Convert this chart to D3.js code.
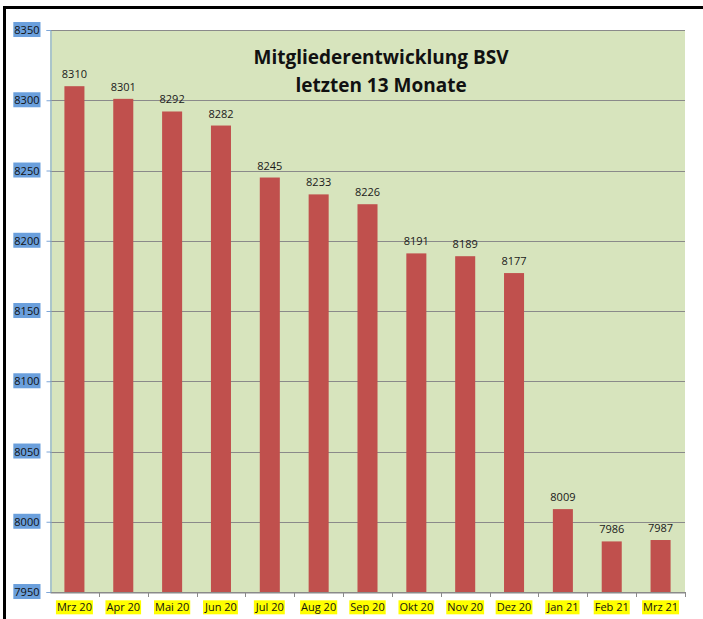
<!DOCTYPE html>
<html>
<head>
<meta charset="utf-8">
<script src="https://cdn.jsdelivr.net/npm/d3@7"></script>
<style>
	body { margin: 0; background: #fff; }
	svg { display: block; font-family: "Open Sans", "Liberation Sans", sans-serif; }
</style>
</head>
<body>
<div id="chart"></div>
<script>
(function() {
	"use strict";

	var months = ['Mrz 20', 'Apr 20', 'Mai 20', 'Jun 20', 'Jul 20', 'Aug 20', 'Sep 20',
		'Okt 20', 'Nov 20', 'Dez 20', 'Jan 21', 'Feb 21', 'Mrz 21'];
	var members = [8310, 8301, 8292, 8282, 8245, 8233, 8226, 8191, 8189, 8177, 8009, 7986, 7987];
	var yTicks = [7950, 8000, 8050, 8100, 8150, 8200, 8250, 8300, 8350];
	var titleLines = ['Mitgliederentwicklung BSV', 'letzten 13 Monate'];

	var width = 703, height = 619;
	var plot = { left: 50, right: 685, top: 30, bottom: 592 };

	var svg = d3.select('#chart')
		.append('svg')
		.attr('width', width)
		.attr('height', height);

	// outer frame of the embedded chart
	svg.append('rect')
		.attr('x', 4.5).attr('y', 7.5)
		.attr('width', width + 10).attr('height', height + 10)
		.attr('fill', 'none')
		.attr('stroke', '#000')
		.attr('stroke-width', 3);

	var x = d3.scaleBand()
		.domain(months)
		.range([plot.left, plot.right])
		.paddingInner(0.59)
		.paddingOuter(0.295);

	var slots = d3.scaleBand()
		.domain(months)
		.range([plot.left, plot.right]);

	var y = d3.scaleLinear()
		.domain([7950, 8350])
		.range([plot.bottom, plot.top]);

	svg.append('rect')
		.attr('x', plot.left).attr('y', plot.top)
		.attr('width', plot.right - plot.left)
		.attr('height', plot.bottom - plot.top)
		.attr('fill', '#d7e4bd');

	// gridlines
	svg.append('g')
		.selectAll('line')
		.data(yTicks)
		.enter()
		.append('line')
		.attr('x1', plot.left).attr('x2', plot.right)
		.attr('y1', function (d) { return Math.round(y(d)) + 0.5; })
		.attr('y2', function (d) { return Math.round(y(d)) + 0.5; })
		.attr('stroke', '#8a8a8a')
		.attr('stroke-width', 1);

	// bars
	svg.append('g')
		.selectAll('rect')
		.data(members)
		.enter()
		.append('rect')
		.attr('x', function (d, i) { return x(months[i]); })
		.attr('width', x.bandwidth())
		.attr('y', function (d) { return y(d); })
		.attr('height', function (d) { return plot.bottom - y(d); })
		.attr('fill', '#c0504d');

	// value labels
	svg.append('g')
		.selectAll('text')
		.data(members)
		.enter()
		.append('text')
		.attr('x', function (d, i) { return x(months[i]) + x.bandwidth() / 2; })
		.attr('y', function (d) { return y(d) - 8; })
		.attr('text-anchor', 'middle')
		.attr('font-size', 11)
		.attr('fill', '#1a1a1a')
		.text(function (d) { return d; });

	// y axis
	var yAxis = svg.append('g')
		.attr('transform', 'translate(' + (plot.left + 0.5) + ',0)')
		.call(d3.axisLeft(y).tickValues(yTicks).tickFormat(d3.format('d')).tickSize(4).tickPadding(7));
	yAxis.select('.domain').attr('stroke', '#7ea6d8');
	yAxis.selectAll('.tick line').attr('stroke', '#7ea6d8');
	yAxis.selectAll('.tick text')
		.attr('font-size', 11)
		.attr('fill', '#111')
		.attr('font-family', '"Open Sans", sans-serif')
		.each(function () {
			var bb = this.getBBox();
			d3.select(this.parentNode).insert('rect', 'text')
				.attr('x', bb.x - 1).attr('y', bb.y)
				.attr('width', bb.width + 2).attr('height', bb.height)
				.attr('fill', '#6a9fdc');
		});

	// x axis
	var xAxis = svg.append('g')
		.attr('transform', 'translate(0,' + (plot.bottom + 0.5) + ')')
		.call(d3.axisBottom(slots).tickSize(0).tickPadding(11));
	xAxis.select('.domain').attr('stroke', '#8a8a8a');
	xAxis.selectAll('.tick text')
		.attr('font-size', 11)
		.attr('fill', '#111')
		.attr('font-family', '"Open Sans", sans-serif')
		.each(function () {
			var bb = this.getBBox();
			d3.select(this.parentNode).insert('rect', 'text')
				.attr('x', bb.x - 1).attr('y', bb.y + 1)
				.attr('width', bb.width + 2).attr('height', bb.height - 1)
				.attr('fill', '#ffff00');
		});

	// category separator ticks
	svg.append('g')
		.selectAll('line')
		.data(months)
		.enter()
		.append('line')
		.attr('x1', function (d) { return Math.round(slots(d) + slots.bandwidth()) + 0.5; })
		.attr('x2', function (d) { return Math.round(slots(d) + slots.bandwidth()) + 0.5; })
		.attr('y1', plot.bottom)
		.attr('y2', plot.bottom + 5)
		.attr('stroke', '#8a8a8a');

	// title
	svg.append('g')
		.selectAll('text')
		.data(titleLines)
		.enter()
		.append('text')
		.attr('x', 381)
		.attr('y', function (d, i) { return 64 + i * 28; })
		.attr('text-anchor', 'middle')
		.attr('font-size', 19)
		.attr('font-weight', 'bold')
		.attr('fill', '#111')
		.text(function (d) { return d; });
}());
</script>
</body>
</html>
